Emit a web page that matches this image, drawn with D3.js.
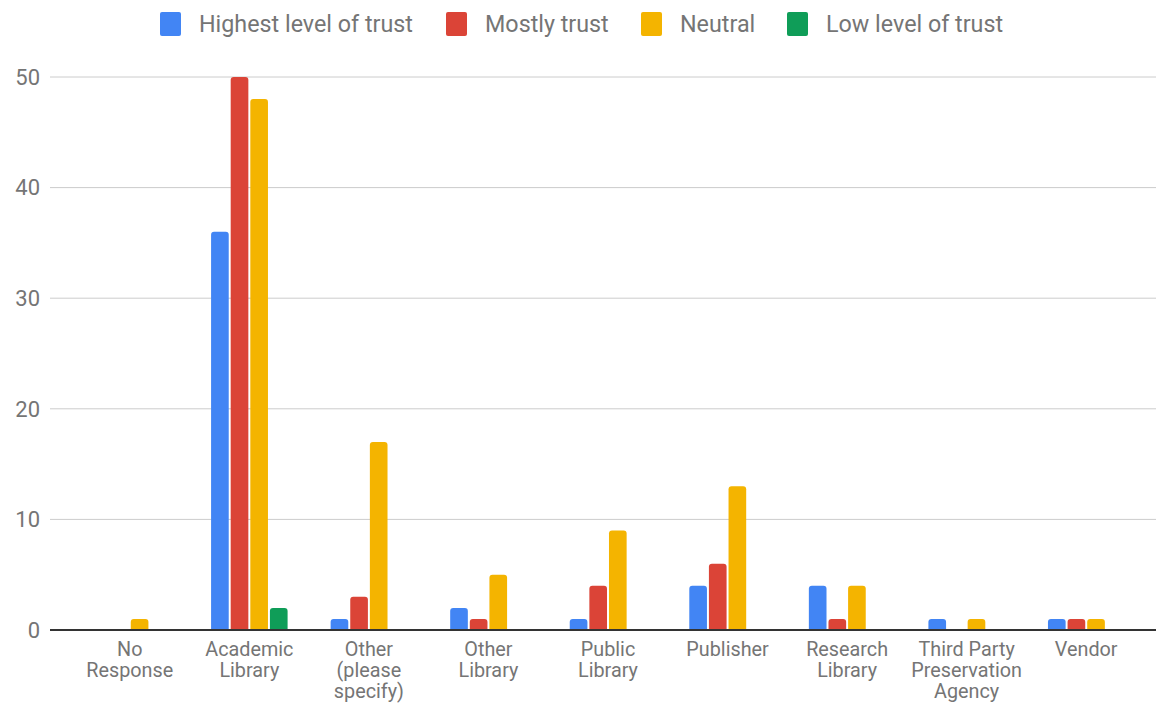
<!DOCTYPE html>
<html>
<head>
<meta charset="utf-8">
<script src="https://cdn.jsdelivr.net/npm/d3@7"></script>
<style>
  body { margin: 0; background: #fff; }
  text { font-family: Roboto, Arial, sans-serif; }
</style>
</head>
<body>
<script>
// data
let categories = ['No Response', 'Academic Library', 'Other (please specify)', 'Other Library',
  'Public Library', 'Publisher', 'Research Library', 'Third Party Preservation Agency', 'Vendor'];
let categoryLines = [['No', 'Response'], ['Academic', 'Library'], ['Other', '(please', 'specify)'],
  ['Other', 'Library'], ['Public', 'Library'], ['Publisher'], ['Research', 'Library'],
  ['Third Party', 'Preservation', 'Agency'], ['Vendor']];
let seriesNames = ['Highest level of trust', 'Mostly trust', 'Neutral', 'Low level of trust'];
let highest = [0, 36, 1, 2, 1, 4, 4, 1, 1];
let mostly  = [0, 50, 3, 1, 4, 6, 1, 0, 1];
let neutral = [1, 48, 17, 5, 9, 13, 4, 1, 1];
let low     = [0, 2, 0, 0, 0, 0, 0, 0, 0];
let yTicks = [0, 10, 20, 30, 40, 50];

let series = [highest, mostly, neutral, low];
let colors = ['#4285f4', '#db4437', '#f4b400', '#0f9d58'];

let width = 1156, height = 705;
let margin = { top: 77, bottom: 75, left: 70, right: 10 };

let svg = d3.select('body').append('svg')
  .attr('width', width)
  .attr('height', height);

let xScale = d3.scaleBand()
  .domain(categories)
  .range([margin.left, 1146])
  .paddingInner(0.36)
  .paddingOuter(0.18);

let xInner = d3.scaleBand()
  .domain(seriesNames)
  .range([0, xScale.bandwidth()])
  .paddingInner(0.1);

let yScale = d3.scaleLinear()
  .domain([0, 50])
  .range([height - margin.bottom, margin.top]);

// gridlines
svg.append('g')
  .selectAll('line')
  .data(yTicks)
  .join('line')
  .attr('x1', 50)
  .attr('x2', width)
  .attr('y1', d => yScale(d))
  .attr('y2', d => yScale(d))
  .attr('stroke', '#cccccc')
  .attr('stroke-width', 1);

// y tick labels
svg.append('g')
  .selectAll('text')
  .data(yTicks)
  .join('text')
  .attr('x', 40)
  .attr('y', d => yScale(d))
  .attr('dy', '0.35em')
  .attr('text-anchor', 'end')
  .attr('fill', '#757575')
  .style('font-size', '22px')
  .text(d => d);

// bars with rounded tops
function barPath(x, y, w, h, r) {
  r = Math.min(r, h, w / 2);
  return `M${x},${y + h} L${x},${y + r} Q${x},${y} ${x + r},${y} L${x + w - r},${y} Q${x + w},${y} ${x + w},${y + r} L${x + w},${y + h} Z`;
}

series.forEach((vals, si) => {
  svg.append('g')
    .selectAll('path')
    .data(vals.map((v, i) => ({ cat: categories[i], v })).filter(d => d.v > 0))
    .join('path')
    .attr('fill', colors[si])
    .attr('d', d => {
      let x = xScale(d.cat) + xInner(seriesNames[si]);
      let y = yScale(d.v);
      return barPath(x, y, xInner.bandwidth(), yScale(0) - y, 3);
    });
});

// baseline
svg.append('line')
  .attr('x1', 50)
  .attr('x2', width)
  .attr('y1', yScale(0))
  .attr('y2', yScale(0))
  .attr('stroke', '#333333')
  .attr('stroke-width', 2);

// x labels
let xl = svg.append('g')
  .selectAll('text')
  .data(categories)
  .join('text')
  .attr('text-anchor', 'middle')
  .attr('fill', '#757575')
  .style('font-size', '19.8px')
  .attr('x', d => xScale(d) + xScale.bandwidth() / 2)
  .attr('y', yScale(0) + 26);

xl.each(function(d, i) {
  d3.select(this).selectAll('tspan')
    .data(categoryLines[i])
    .join('tspan')
    .attr('x', xScale(d) + xScale.bandwidth() / 2)
    .attr('dy', (t, j) => j === 0 ? 0 : 21)
    .text(t => t);
});

// legend
let legendX = [160, 446, 641, 787];
let legend = svg.append('g');
seriesNames.forEach((name, i) => {
  legend.append('rect')
    .attr('x', legendX[i])
    .attr('y', 12)
    .attr('width', 21)
    .attr('height', 24)
    .attr('rx', 2)
    .attr('fill', colors[i]);
  legend.append('text')
    .attr('x', legendX[i] + 39)
    .attr('y', 24)
    .attr('dy', '0.35em')
    .attr('fill', '#757575')
    .style('font-size', '23.3px')
    .text(name);
});
</script>
</body>
</html>
